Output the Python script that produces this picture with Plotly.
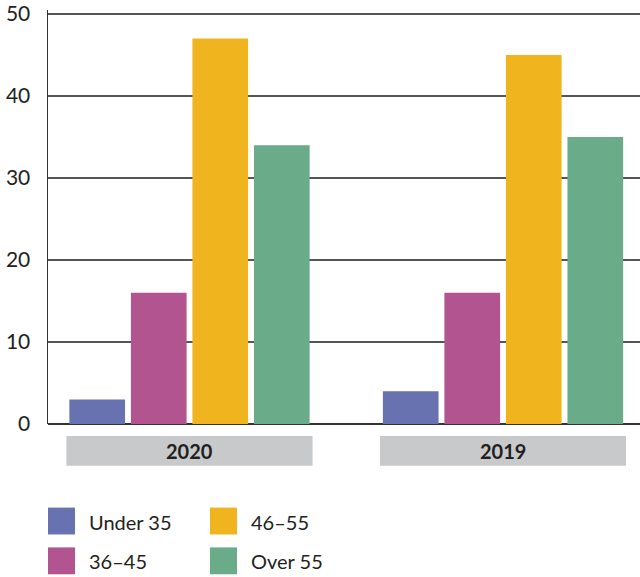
import plotly.graph_objects as go

categories = ["2020", "2019"]
series_names = ["Under 35", "36-45", "46-55", "Over 55"]
series_values = {
    "Under 35": [3, 4],
    "36-45": [16, 16],
    "46-55": [47, 45],
    "Over 55": [34, 35],
}
colors = ["#6872b0", "#b1548f", "#f0b41e", "#6aab89"]
y_ticks = [0, 10, 20, 30, 40, 50]

FONT = "Lato"
TXT = "#231f20"

W, H = 640, 577
ML, MR, MT, MB = 48, 0, 8, 153
PW = W - ML - MR
PH = H - MT - MB
YTOP = 50 * PH / (424 - 12)

def px_x(p):
    return (p - ML) / PW

def px_y(p):
    return (H - MB - p) / PH

fig = go.Figure()
for name, col in zip(series_names, colors):
    fig.add_trace(go.Bar(
        x=categories, y=series_values[name], name=name,
        marker=dict(color=col, line=dict(width=0)),
        showlegend=False, hoverinfo="skip",
    ))

shapes = []
annotations = []
# category label boxes
half = 0.3925
for i, cat in enumerate(categories):
    shapes.append(dict(type="rect", xref="x", yref="paper",
                       x0=i - half, x1=i + half,
                       y0=px_y(466), y1=px_y(436),
                       fillcolor="#c8c9cb", line=dict(width=0), layer="below"))
    annotations.append(dict(xref="x", yref="paper", x=i, y=px_y(451),
                            text="<b>%s</b>" % cat, showarrow=False,
                            font=dict(family=FONT, size=20, color=TXT),
                            xanchor="center", yanchor="middle"))

# legend (two columns)
leg_pos = [(48, 508), (48, 548), (210, 508), (210, 548)]
for (lx, ly), name, col in zip(leg_pos, series_names, colors):
    shapes.append(dict(type="rect", xref="paper", yref="paper",
                       x0=px_x(lx), x1=px_x(lx + 27),
                       y0=px_y(ly + 27), y1=px_y(ly),
                       fillcolor=col, line=dict(width=0)))
    annotations.append(dict(xref="paper", yref="paper",
                            x=px_x(lx + 39), y=px_y(ly + 14),
                            text=name.replace("-", "–"), showarrow=False,
                            font=dict(family=FONT, size=20, color=TXT),
                            xanchor="left", yanchor="middle"))

c0, c1 = 189.5, 503.0
step = c1 - c0
xr = [(ML - c0) / step, (W - MR - c0) / step]

fig.update_layout(
    width=W, height=H,
    margin=dict(l=ML, r=MR, t=MT, b=MB, pad=0),
    paper_bgcolor="white", plot_bgcolor="white",
    barmode="group", bargap=0.215, bargroupgap=0.095,
    shapes=shapes, annotations=annotations,
    showlegend=False,
    xaxis=dict(type="category", range=xr, showticklabels=False,
               showgrid=False, zeroline=False, showline=False, ticks=""),
    yaxis=dict(range=[0, YTOP], tickvals=y_ticks, showgrid=True,
               gridcolor="#555555", gridwidth=1.5,
               zeroline=True, zerolinecolor="#333333", zerolinewidth=2,
               showline=True, linecolor="#333333", linewidth=1.5,
               ticks="", ticklabelstandoff=12, ticklabeloverflow="allow",
               tickfont=dict(family=FONT, size=21, color=TXT)),
)

fig.write_html("out.html",
               config={"displayModeBar": False, "staticPlot": True},
               post_script="document.body.style.margin='0';document.body.style.padding='0';")
